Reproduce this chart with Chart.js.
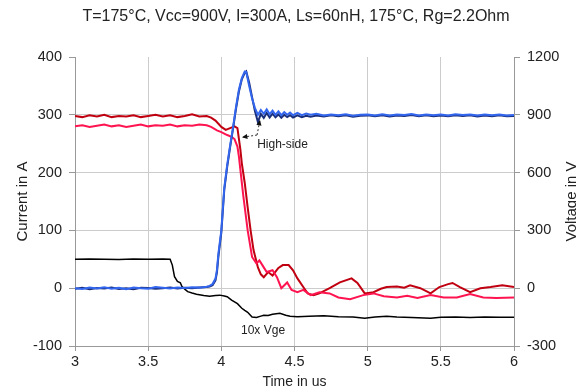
<!DOCTYPE html>
<html>
<head>
<meta charset="utf-8">
<script src="https://cdn.jsdelivr.net/npm/chart.js@4.4.0/dist/chart.umd.min.js"></script>
<style>
  html, body { margin: 0; padding: 0; background: #fff; }
  canvas { display: block; }
</style>
</head>
<body>
<canvas id="chart" width="576" height="391"></canvas>
<script>
const titleText = 'T=175°C, Vcc=900V, I=300A, Ls=60nH, 175°C, Rg=2.2Ohm'

// voltages (right axis, V) - blue and dark blue share time points
const vceT = [3.00, 3.05, 3.10, 3.15, 3.20, 3.25, 3.30, 3.35, 3.40, 3.45, 3.50, 3.55, 3.60, 3.65, 3.70, 3.75, 3.80, 3.85, 3.90,
    3.92, 3.94, 3.96, 3.97, 3.98, 4.00, 4.02, 4.04, 4.06, 4.08, 4.10, 4.12, 4.14, 4.16, 4.17, 4.19, 4.21, 4.23, 4.25,
    4.27, 4.29, 4.31, 4.33, 4.35, 4.37, 4.39, 4.41, 4.43, 4.45, 4.47, 4.49, 4.52, 4.55, 4.58, 4.61, 4.65,
    4.70, 4.75, 4.80, 4.85, 4.90, 4.95, 5.00, 5.05, 5.10, 5.15, 5.20, 5.25, 5.30, 5.35, 5.40, 5.45, 5.50, 5.55, 5.60,
    5.65, 5.70, 5.75, 5.80, 5.85, 5.90, 5.95, 6.00]
const vceBlue = [0, -4, 3, -2, 5, -3, 2, -5, 4, 0, -3, 6, 2, -2, 4, 1, 5, 3, 8,
    12, 22, 50, 95, 180, 300, 520, 640, 740, 835, 940, 1030, 1090, 1125, 1122, 1050, 985, 935, 900,
    925, 905, 928, 903, 922, 900, 918, 898, 914, 900, 912, 898, 910, 898, 906, 900, 905,
    896, 902, 898, 903, 895, 900, 902, 897, 903, 896, 901, 899, 904, 897, 902, 898, 901, 897, 903,
    899, 902, 896, 901, 898, 902, 897, 899]
const vceHighSide = [-3, 2, -5, 1, -2, 4, -4, 0, -6, 2, 1, -3, 0, 3, -2, 2, 0, 4, 6,
    9, 16, 40, 82, 165, 290, 510, 630, 732, 828, 930, 1020, 1084, 1118, 1125, 1068, 992, 918, 862,
    905, 884, 910, 886, 906, 887, 902, 885, 900, 888, 898, 886, 897, 888, 895, 890, 896,
    891, 897, 893, 898, 890, 895, 897, 892, 898, 891, 896, 894, 899, 892, 897, 893, 896, 892, 898,
    894, 897, 891, 896, 893, 897, 892, 894]

// 10x Vge (right axis, V)
const vgeT = [3.00, 3.10, 3.20, 3.30, 3.40, 3.50, 3.60, 3.65, 3.665, 3.68, 3.70, 3.72, 3.73, 3.75, 3.77, 3.80, 3.83, 3.88,
    3.92, 3.96, 3.99, 4.02, 4.04, 4.07, 4.11, 4.14, 4.16, 4.18, 4.21, 4.24, 4.27, 4.29, 4.32, 4.35, 4.40, 4.44, 4.47,
    4.52, 4.60, 4.70, 4.80, 4.90, 4.98, 5.05, 5.13, 5.20, 5.30, 5.43, 5.50, 5.60, 5.70, 5.80, 5.90, 6.00]
const vge10 = [150, 151, 150, 149, 151, 150, 151, 150, 120, 60, 35, 28, 10, -5, -18, -25, -31, -38,
    -42, -38, -36, -40, -44, -62, -80, -104, -115, -125, -150, -152, -145, -140, -142, -135, -130, -140, -145,
    -148, -146, -143, -148, -150, -156, -150, -145, -150, -152, -156, -151, -149, -152, -150, -151, -151]

// currents (left axis, A)
const iHighSideT = [3.00, 3.05, 3.10, 3.15, 3.20, 3.25, 3.30, 3.35, 3.40, 3.45, 3.50, 3.55, 3.60, 3.65, 3.70, 3.75, 3.80, 3.85, 3.90,
    3.93, 3.96, 4.00, 4.03, 4.06, 4.09, 4.11, 4.13, 4.14, 4.16, 4.18, 4.20, 4.22, 4.25, 4.27, 4.29, 4.32, 4.35, 4.39,
    4.42, 4.46, 4.49, 4.52, 4.56, 4.59, 4.63, 4.67, 4.74, 4.81, 4.89, 4.93, 4.98, 5.04, 5.09, 5.13, 5.20, 5.25, 5.29,
    5.36, 5.43, 5.49, 5.55, 5.58, 5.63, 5.70, 5.77, 5.84, 5.92, 6.00]
const iHighSide = [298, 296, 299, 297, 300, 296, 298, 297, 299, 296, 298, 300, 297, 299, 296, 298, 301, 297, 298,
    295, 290, 279, 274, 277, 280, 277, 240, 216, 182, 140, 100, 66, 36, 24, 19, 28, 22, 35,
    40, 40, 31, 17, 2, -9, -12, -9, 0, 10, 17, 9, -9, -7, -1, 2, 3, 1, 5,
    0, -9, 2, 7, 9, 2, -7, 0, 2, 5, 2]
const iLowT = [3.00, 3.05, 3.10, 3.15, 3.20, 3.25, 3.30, 3.35, 3.40, 3.45, 3.50, 3.55, 3.60, 3.65, 3.70, 3.75, 3.80, 3.85, 3.90,
    3.93, 3.97, 4.00, 4.04, 4.07, 4.09, 4.11, 4.12, 4.13, 4.15, 4.18, 4.21, 4.24, 4.26, 4.29, 4.31, 4.35, 4.38, 4.41,
    4.45, 4.48, 4.52, 4.56, 4.61, 4.67, 4.74, 4.80, 4.88, 4.97, 5.04, 5.11, 5.20, 5.27, 5.34, 5.43, 5.52, 5.61,
    5.70, 5.79, 5.88, 6.00]
const iLow = [280, 282, 279, 281, 283, 280, 282, 279, 281, 283, 280, 282, 281, 283, 280, 282, 281, 283, 282,
    279, 273, 270, 265, 262, 258, 245, 228, 205, 160, 100, 54, 43, 48, 36, 28, 31, 19, 0,
    10, -3, -7, -3, -12, -7, -9, -16, -19, -12, -9, -14, -16, -13, -17, -12, -16, -16,
    -10, -16, -17, -16]

const pts = (ts, vs) => ts.map((t, i) => ({x: t, y: vs[i]}))

const font = 'Liberation Sans, Arial, sans-serif'

// title, annotation text + arrows (placed in data units), right axis title
const notes = {
    id: 'notes',
    afterDatasetsDraw(chart) {
        const {ctx, scales} = chart
        const x = scales.x, y = scales.y
        ctx.save()
        ctx.fillStyle = '#222'
        ctx.font = '12px ' + font
        ctx.textBaseline = 'middle'
        ctx.textAlign = 'left'
        ctx.fillText('High-side', x.getPixelForValue(4.245), y.getPixelForValue(249))
        ctx.textAlign = 'center'
        ctx.fillText('10x Vge', x.getPixelForValue(4.285), y.getPixelForValue(-73))

        const corner = [x.getPixelForValue(4.244), y.getPixelForValue(265)]
        const tips = [
            [x.getPixelForValue(4.141), y.getPixelForValue(261)],
            [x.getPixelForValue(4.264), y.getPixelForValue(291)]
        ]
        ctx.strokeStyle = '#333'
        ctx.lineWidth = 1
        tips.forEach(tip => {
            ctx.setLineDash([2, 2])
            ctx.beginPath()
            ctx.moveTo(corner[0], corner[1])
            ctx.lineTo(tip[0], tip[1])
            ctx.stroke()
            ctx.setLineDash([])
            const ang = Math.atan2(tip[1] - corner[1], tip[0] - corner[0])
            ctx.beginPath()
            ctx.moveTo(tip[0], tip[1])
            ctx.lineTo(tip[0] - 6 * Math.cos(ang - 0.45), tip[1] - 6 * Math.sin(ang - 0.45))
            ctx.lineTo(tip[0] - 6 * Math.cos(ang + 0.45), tip[1] - 6 * Math.sin(ang + 0.45))
            ctx.closePath()
            ctx.fillStyle = '#111'
            ctx.fill()
        })
        ctx.restore()
    },
    afterDraw(chart) {
        const {ctx, chartArea} = chart
        ctx.save()
        ctx.fillStyle = '#222'
        ctx.textAlign = 'center'
        ctx.textBaseline = 'middle'
        ctx.font = '16px ' + font
        ctx.fillText(titleText, 296, 17)
        // right axis title reads bottom-to-top like the left one
        ctx.translate(572, (chartArea.top + chartArea.bottom) / 2)
        ctx.rotate(-Math.PI / 2)
        ctx.font = '15px ' + font
        ctx.fillText('Voltage in V', 0, 0)
        ctx.restore()
    }
}

const line = (label, data, color, axis, width, order) => ({
    label, data, borderColor: color, backgroundColor: color, yAxisID: axis,
    borderWidth: width, pointRadius: 0, tension: 0, order
})

const tickFont = { family: font, size: 14.5 }

new Chart(document.getElementById('chart'), {
    type: 'line',
    data: {
        datasets: [
            line('Vce', pts(vceT, vceBlue), '#3366ee', 'y1', 2, 0),
            line('Vce high-side', pts(vceT, vceHighSide), '#1a2f7a', 'y1', 2, 1),
            line('10x Vge', pts(vgeT, vge10), '#000000', 'y1', 1.5, 2),
            line('Ic', pts(iLowT, iLow), '#ff1450', 'y', 2, 3),
            line('Ic high-side', pts(iHighSideT, iHighSide), '#c00010', 'y', 2, 4)
        ]
    },
    options: {
        responsive: false,
        animation: false,
        devicePixelRatio: 1,
        layout: { padding: { top: 57 } },
        plugins: {
            legend: { display: false },
            tooltip: { enabled: false },
            title: { display: false }
        },
        scales: {
            x: {
                type: 'linear',
                min: 3, max: 6,
                afterFit: s => { s.height = 45 },
                ticks: { stepSize: 0.5, color: '#222', font: tickFont, padding: 2, maxRotation: 0, callback: v => String(v) },
                grid: { color: '#cccccc', tickColor: '#999', tickLength: 5 },
                border: { color: '#999' },
                title: { display: true, text: 'Time in us', color: '#222', font: { family: font, size: 14 }, padding: { top: 1, bottom: 0 } }
            },
            y: {
                position: 'left',
                min: -100, max: 400,
                afterFit: s => { s.width = 75 },
                ticks: { stepSize: 100, color: '#222', font: tickFont, padding: 7, callback: v => String(v) },
                grid: {
                    color: c => c.tick && c.tick.value === 400 ? 'rgba(0,0,0,0)' : '#cccccc',
                    tickColor: '#999', tickLength: 6
                },
                border: { color: '#999' },
                title: { display: true, text: 'Current in A', color: '#222', font: { family: font, size: 15 }, padding: { top: 14, bottom: 0 } }
            },
            y1: {
                position: 'right',
                min: -300, max: 1200,
                afterFit: s => { s.width = 62 },
                ticks: { stepSize: 300, color: '#222', font: tickFont, padding: 7, callback: v => String(v) },
                grid: { drawOnChartArea: false, tickColor: '#999', tickLength: 6 },
                border: { color: '#999' }
            }
        }
    },
    plugins: [notes]
})
</script>
</body>
</html>
